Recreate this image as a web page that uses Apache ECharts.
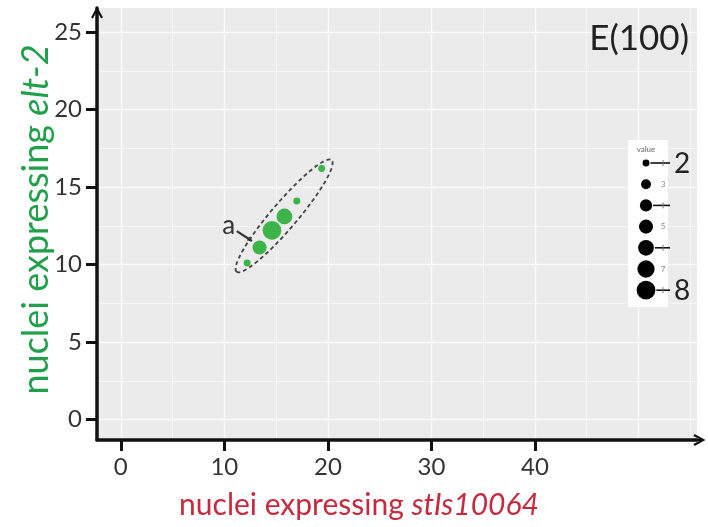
<!DOCTYPE html>
<html>
<head>
<meta charset="utf-8">
<script src="https://cdn.jsdelivr.net/npm/echarts@6/dist/echarts.min.js"></script>
<style>
  html, body { margin: 0; padding: 0; background: #fff; }
  #chart { width: 708px; height: 527px; }
</style>
</head>
<body>
<div id="chart"></div>
<script>
// points
const xValues = [12.2, 13.4, 14.6, 15.8, 17.0, 19.4];
const yValues = [10.1, 11.1, 12.2, 13.1, 14.1, 16.2];
const counts = [2, 5, 8, 6, 2, 2];

const xTicks = [0, 10, 20, 30, 40];
const yTicks = [0, 5, 10, 15, 20, 25];
const xGrid = [0, 5, 10, 15, 20, 25, 30, 35, 40, 45, 50, 55];
const yGrid = [0, 2.5, 5, 7.5, 10, 12.5, 15, 17.5, 20, 22.5, 25];

const legendValues = [2, 3, 4, 5, 6, 7, 8];
// dashed ellipse: two ends of the long axis, data coords
const ellipseEnds = [11.18, 9.54, 20.36, 16.74];
// "a" label position and arrow tip
const annot = [10.43, 12.48, 12.66, 11.52];

const green = '#3db449';
const font = 'Lato';

function radius(v) {
  return Math.sqrt(12 + 12.5 * (v - 2));
}

const arrowPath = 'path://M5,0 L10,9 L8.4,10 L5.8,5.2 L5.8,14 L4.2,14 L4.2,5.2 L1.6,10 L0,9 Z';
const axisLine = {
  show: true,
  onZero: false,
  symbol: ['none', arrowPath],
  symbolSize: [12, 18],
  lineStyle: { color: '#111', width: 3.5 }
};

const gridLines = [];
xGrid.forEach(v => gridLines.push({ xAxis: v, lineStyle: { width: v % 10 === 0 ? 1.3 : 0.7 } }));
yGrid.forEach(v => gridLines.push({ yAxis: v, lineStyle: { width: v % 5 === 0 ? 1.3 : 0.7 } }));

// size legend (drawn by hand, like the pasted ggplot legend)
const legendTop = 163, legendStep = 21.2, legendX = 646;
const legendEls = [
  { type: 'rect', z: 20, shape: { x: 628, y: 140, width: 40, height: 167 }, style: { fill: '#fff' } },
  { type: 'text', z: 21, x: legendX, y: 149, style: { text: 'value', fontSize: 8, fill: '#666', align: 'center', verticalAlign: 'middle', fontFamily: font } }
];
legendValues.forEach((v, i) => {
  const cy = legendTop + i * legendStep;
  legendEls.push({ type: 'circle', z: 21, shape: { cx: legendX, cy: cy, r: radius(v) }, style: { fill: '#000' } });
  if (v % 2) {
    legendEls.push({ type: 'text', z: 21, x: 663, y: cy, style: { text: String(v), fontSize: 8, fill: '#888', align: 'center', verticalAlign: 'middle', fontFamily: font } });
  } else {
    legendEls.push({ type: 'line', z: 21, shape: { x1: legendX + radius(v) + 1, y1: cy, x2: 670, y2: cy }, style: { stroke: '#111', lineWidth: 1.6 } });
    legendEls.push({ type: 'line', z: 21, shape: { x1: 663, y1: cy - 3, x2: 663, y2: cy + 3 }, style: { stroke: '#777', lineWidth: 1 } });
  }
});
legendEls.push({ type: 'text', z: 21, x: 674, y: legendTop + 1, style: { text: '2', fontSize: 28, fill: '#222', verticalAlign: 'middle', fontFamily: font } });
legendEls.push({ type: 'text', z: 21, x: 674, y: legendTop + 6 * legendStep + 1, style: { text: '8', fontSize: 28, fill: '#222', verticalAlign: 'middle', fontFamily: font } });

const chart = echarts.init(document.getElementById('chart'));
chart.setOption({
  animation: false,
  backgroundColor: '#fff',
  title: {
    text: 'E(100)',
    right: 14,
    top: 16,
    textStyle: { fontSize: 35, fontWeight: 'normal', color: '#222', fontFamily: font }
  },
  grid: {
    left: 97, right: 11, top: 8, bottom: 87,
    show: true, backgroundColor: '#ebebeb', borderWidth: 0
  },
  xAxis: {
    type: 'value',
    min: -2.3,
    max: 55.65,
    z: 3,
    axisLine: axisLine,
    axisTick: { show: true, customValues: xTicks, length: 11, lineStyle: { color: '#111', width: 3 } },
    axisLabel: { customValues: xTicks, fontSize: 24, color: '#333', margin: 15, fontFamily: font },
    splitLine: { show: false },
    name: '{n|nuclei expressing }{i|stIs10064}',
    nameLocation: 'middle',
    nameGap: 50,
    nameMoveOverlap: false,
    nameTextStyle: {
      padding: [0, 76, 0, 0],
      rich: {
        n: { fontSize: 30, color: '#c62a3f', fontFamily: font },
        i: { fontSize: 30, color: '#c62a3f', fontStyle: 'italic', fontFamily: font }
      }
    }
  },
  yAxis: {
    type: 'value',
    min: -1.32,
    max: 26.55,
    z: 3,
    axisLine: Object.assign({}, axisLine, { symbolOffset: [0, -7] }),
    axisTick: { show: true, customValues: yTicks, length: 11, lineStyle: { color: '#111', width: 3 } },
    axisLabel: { customValues: yTicks, fontSize: 24, color: '#333', margin: 15, fontFamily: font },
    splitLine: { show: false },
    name: '{n|nuclei expressing }{i|elt-2}',
    nameLocation: 'middle',
    nameGap: 43,
    nameMoveOverlap: false,
    nameTextStyle: {
      padding: [0, 0, 0, 9],
      rich: {
        n: { fontSize: 36, color: '#21a04b', fontFamily: font },
        i: { fontSize: 36, color: '#21a04b', fontStyle: 'italic', fontFamily: font }
      }
    }
  },
  graphic: legendEls,
  series: [
    {
      type: 'line',
      data: [],
      markLine: {
        z: 1,
        silent: true,
        symbol: 'none',
        label: { show: false },
        lineStyle: { color: '#fafafa', type: 'solid', width: 1 },
        data: gridLines
      }
    },
    {
      type: 'scatter',
      z: 4,
      data: xValues.map((x, i) => [x, yValues[i], counts[i]]),
      symbolSize: d => 2 * radius(d[2]),
      itemStyle: { color: green, opacity: 1 }
    },
    {
      type: 'custom',
      z: 5,
      silent: true,
      encode: { x: [0, 2], y: [1, 3] },
      data: [ellipseEnds],
      renderItem: (params, api) => {
        const a = api.coord([api.value(0), api.value(1)]);
        const b = api.coord([api.value(2), api.value(3)]);
        const dx = b[0] - a[0], dy = b[1] - a[1];
        return {
          type: 'ellipse',
          x: (a[0] + b[0]) / 2,
          y: (a[1] + b[1]) / 2,
          rotation: Math.atan2(-dy, dx),
          shape: { cx: 0, cy: 0, rx: Math.hypot(dx, dy) / 2, ry: 13 },
          style: { fill: 'none', stroke: '#444', lineWidth: 1.8, lineDash: [4, 3] }
        };
      }
    },
    {
      type: 'custom',
      z: 5,
      silent: true,
      encode: { x: [0, 2], y: [1, 3] },
      data: [annot],
      renderItem: (params, api) => {
        const p = api.coord([api.value(0), api.value(1)]);
        const t = api.coord([api.value(2), api.value(3)]);
        const ang = Math.atan2(t[1] - p[1], t[0] - p[0]);
        const s = [p[0] + 8, p[1] + 5];
        const h = 5;
        return {
          type: 'group',
          children: [
            { type: 'text', x: p[0], y: p[1], style: { text: 'a', fontSize: 26, fill: '#333', align: 'center', verticalAlign: 'middle', fontFamily: font } },
            { type: 'line', shape: { x1: s[0], y1: s[1], x2: t[0], y2: t[1] }, style: { stroke: '#333', lineWidth: 2.2 } },
            { type: 'polygon', shape: { points: [
              [t[0], t[1]],
              [t[0] - h * Math.cos(ang - 0.5), t[1] - h * Math.sin(ang - 0.5)],
              [t[0] - h * Math.cos(ang + 0.5), t[1] - h * Math.sin(ang + 0.5)]
            ] }, style: { fill: '#333' } }
          ]
        };
      }
    }
  ]
});
</script>
</body>
</html>
